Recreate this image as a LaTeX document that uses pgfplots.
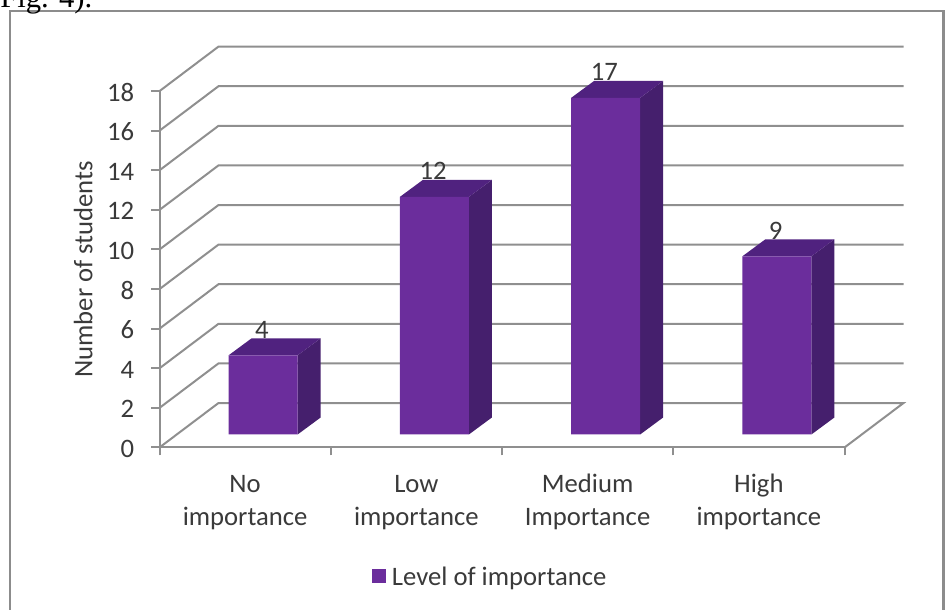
\documentclass[border=0pt]{standalone}
\usepackage{pgfplots}
\pgfplotsset{compat=1.18}
\usepackage{pgfplotstable}
\usepackage{fontspec}
\setmainfont{Carlito}
\newfontfamily\captionserif{Liberation Serif}
\definecolor{barfront}{HTML}{6B2D9C}
\definecolor{barside}{HTML}{451F6D}
\definecolor{bartop}{HTML}{50227F}
\definecolor{gridgrey}{HTML}{8F8F8F}
\definecolor{framegrey}{HTML}{8C8C8C}
\definecolor{textgrey}{HTML}{3A3A3A}

\pgfplotstableread{
pos students
0.5 4
1.5 12
2.5 17
3.5 9
}\importancetable

% side and top faces of one column: centre position, value
\newcommand\columnfaces[2]{%
  \addplot[fill=barside,draw=none,forget plot] coordinates
    {(#1+0.30657,0.6566) (#1+0.44087,1.5152) (#1+0.44087,#2+1.5152) (#1+0.30657,#2+0.6566)} -- cycle;
  \addplot[fill=bartop,draw=none,forget plot] coordinates
    {(#1-0.09635,#2+0.6566) (#1+0.30657,#2+0.6566) (#1+0.44087,#2+1.5152) (#1+0.03795,#2+1.5152)} -- cycle;
}
% one level of the wall: side wall edge, then back wall line
\newcommand\wallline[1]{%
  \addplot[gridgrey,line width=1.5pt,forget plot] coordinates
    {(0,#1) (0.3445,#1+2.247) (4.3445,#1+2.247)};
}

\begin{document}
\begin{tikzpicture}
\path[use as bounding box] (0pt,0pt) rectangle (709.5pt,457.5pt);
% outer chart frame
\draw[framegrey,line width=2pt] (7.5pt,-5pt) -- (7.5pt,449.25pt) -- (707.6pt,449.25pt) -- (707.6pt,-5pt);
\node[anchor=base west,inner sep=0pt,text=black,font=\captionserif\fontsize{23}{24}\selectfont] at (0pt,451.8pt) {Fig. 4).};

\begin{axis}[
  at={(119.625pt,121.875pt)},anchor=origin,
  x=128.4375pt,y=14.85pt,
  xmin=0,xmax=4,ymin=0,ymax=18,
  clip=false,
  axis x line*=bottom,axis y line*=left,
  axis line style={gridgrey,line width=1.5pt,-},
  tick style={gridgrey,line width=1.5pt},
  tick align=outside,
  major tick length=6pt,
  ytick={0,2,...,18},
  xtick={0,1,2,3,4},
  xticklabels={},
  extra x ticks={0.5,1.5,2.5,3.5},
  extra x tick labels={{\strut No\\importance},{\strut Low\\importance},{\strut Medium\\Importance},{\strut High\\importance}},
  extra x tick style={major tick length=0pt,tick style={draw=none},
    xticklabel style={align=center,text=textgrey,font=\fontsize{20}{24.75}\selectfont,yshift=-12.8pt}},
  yticklabel style={text=textgrey,font=\fontsize{20}{24}\selectfont,xshift=-9.5pt,yshift=-1pt},
  /pgf/number format/assume math mode=true,
  ylabel={Number of students},
  every axis y label/.style={at={(axis description cs:0,0.5)},rotate=90,anchor=center,yshift=57.3pt,text=textgrey,font=\fontsize{20}{24}\selectfont},
  legend style={at={(axis cs:1.24,-6.55)},anchor=west,draw=none,fill=none,
    font=\fontsize{20}{24}\selectfont,text=textgrey,inner sep=0pt,outer sep=0pt,
    /tikz/every even column/.append style={column sep=0pt},
    nodes={inner xsep=4.6pt}},
  legend image code/.code={\fill[barfront] (0pt,-14pt) rectangle (10.5pt,-3.5pt);},
]
% floor and walls
\addplot[gridgrey,line width=1.5pt,forget plot] coordinates {(0,0) (0.3445,2.247) (4.3445,2.247) (4,0)};
\wallline{2}\wallline{4}\wallline{6}\wallline{8}\wallline{10}\wallline{12}\wallline{14}\wallline{16}\wallline{18}
% columns
\columnfaces{0.5}{4}
\columnfaces{1.5}{12}
\columnfaces{2.5}{17}
\columnfaces{3.5}{9}
\addplot[ybar,bar width=51.75pt,bar shift=13.5pt,yshift=9.75pt,fill=barfront,draw=none,
  nodes near coords,
  every node near coord/.append style={text=textgrey,font=\fontsize{20}{24}\selectfont,xshift=12.5pt,yshift=10.5pt,inner sep=2pt}]
  table[x=pos,y=students] {\importancetable};
\addlegendentry{Level of importance}
\end{axis}
\end{tikzpicture}
\end{document}
